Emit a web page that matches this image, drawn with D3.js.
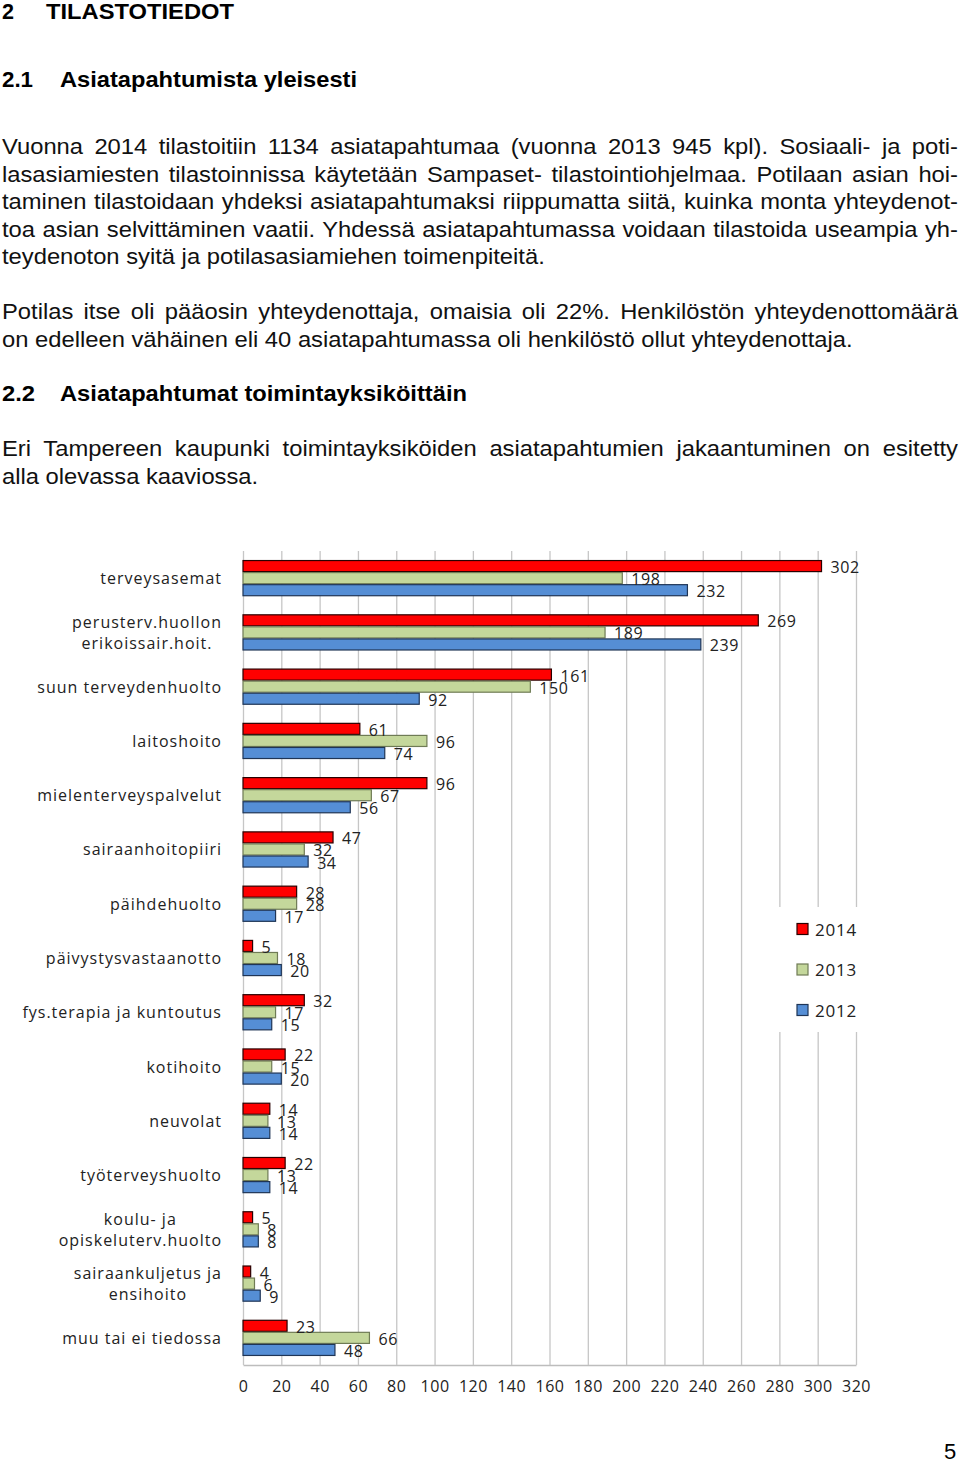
<!DOCTYPE html>
<html><head><meta charset="utf-8">
<script src="https://cdn.jsdelivr.net/npm/d3@7"></script>
<style>body{margin:0;background:#fff} svg{display:block}</style>
</head><body>
<script>
// ---------- DATA ----------
const categories = [
  "terveysasemat",
  "perusterv.huollon\nerikoissair.hoit.",
  "suun terveydenhuolto",
  "laitoshoito",
  "mielenterveyspalvelut",
  "sairaanhoitopiiri",
  "päihdehuolto",
  "päivystysvastaanotto",
  "fys.terapia ja kuntoutus",
  "kotihoito",
  "neuvolat",
  "työterveyshuolto",
  "koulu- ja\nopiskeluterv.huolto",
  "sairaankuljetus ja\nensihoito",
  "muu tai ei tiedossa"
];
const seriesNames = ["2014", "2013", "2012"];
const values2014 = [302, 269, 161, 61, 96, 47, 28, 5, 32, 22, 14, 22, 5, 4, 23];
const values2013 = [198, 189, 150, 96, 67, 32, 28, 18, 17, 15, 13, 13, 8, 6, 66];
const values2012 = [232, 239, 92, 74, 56, 34, 17, 20, 15, 20, 14, 14, 8, 9, 48];
const tickValues = [0, 20, 40, 60, 80, 100, 120, 140, 160, 180, 200, 220, 240, 260, 280, 300, 320];

const para1 = [
  "Vuonna 2014 tilastoitiin 1134 asiatapahtumaa (vuonna 2013 945 kpl). Sosiaali- ja poti-",
  "lasasiamiesten tilastoinnissa käytetään Sampaset- tilastointiohjelmaa. Potilaan asian hoi-",
  "taminen tilastoidaan yhdeksi asiatapahtumaksi riippumatta siitä, kuinka monta yhteydenot-",
  "toa asian selvittäminen vaatii. Yhdessä asiatapahtumassa voidaan tilastoida useampia yh-",
  "teydenoton syitä ja potilasasiamiehen toimenpiteitä."
];
const para2 = [
  "Potilas itse oli pääosin yhteydenottaja, omaisia oli 22%. Henkilöstön yhteydenottomäärä",
  "on edelleen vähäinen eli 40 asiatapahtumassa oli henkilöstö ollut yhteydenottaja."
];
const para3 = [
  "Eri Tampereen kaupunki toimintayksiköiden asiatapahtumien jakaantuminen on esitetty",
  "alla olevassa kaaviossa."
];

// ---------- PAGE ----------
const W = 960, H = 1463;
const svg = d3.select("body").append("svg").attr("width", W).attr("height", H);

const bodyFont = "'Liberation Sans', Arial, sans-serif";
const bodySize = 22;

function heading(num, title, yy, numW, titleX, titleW, size) {
  svg.append("text").attr("x", 2).attr("y", yy).text(num)
    .attr("font-family", bodyFont).attr("font-weight", "bold").attr("font-size", size)
    .attr("textLength", numW).attr("lengthAdjust", "spacingAndGlyphs");
  svg.append("text").attr("x", titleX).attr("y", yy).text(title)
    .attr("font-family", bodyFont).attr("font-weight", "bold").attr("font-size", size)
    .attr("textLength", titleW).attr("lengthAdjust", "spacingAndGlyphs");
}
heading("2", "TILASTOTIEDOT", 19, 12, 46, 188, 22);
heading("2.1", "Asiatapahtumista yleisesti", 87, 31, 60, 297, 22);
heading("2.2", "Asiatapahtumat toimintayksiköittäin", 401, 33, 60, 407, 22);

const probe = svg.append("text").attr("font-family", bodyFont).attr("font-size", bodySize).text(para1[4]);
const sx = 543 / probe.node().getComputedTextLength();
probe.remove();

function bodyLine(str, yy, justify) {
  const t = svg.append("text")
    .attr("transform", `translate(2,${yy}) scale(${sx},1)`)
    .attr("font-family", bodyFont).attr("font-size", bodySize).attr("fill", "#111")
    .text(str);
  if (justify) {
    const w = t.node().getComputedTextLength();
    const n = (str.match(/ /g) || []).length;
    const ws = (956 / sx - w) / n;
    t.style("word-spacing", ws + "px");
  }
}
const lh = 27.5;
para1.forEach((l, i) => bodyLine(l, 154 + i * lh, i < para1.length - 1));
para2.forEach((l, i) => bodyLine(l, 319 + i * lh, i < para2.length - 1));
para3.forEach((l, i) => bodyLine(l, 456 + i * lh, i < para3.length - 1));

svg.append("text").attr("x", 944).attr("y", 1459).text("5")
  .attr("font-family", bodyFont).attr("font-size", 22);

// ---------- CHART ----------
const chartFont = "'Open Sans', sans-serif";
const plotTop = 551, plotBottom = 1365;
const x = d3.scaleLinear().domain([0, 320]).range([243, 856]);
const y = d3.scaleBand().domain(categories).range([plotTop, plotBottom]).paddingInner(1 / 3).paddingOuter(1 / 6);
const ys = d3.scaleBand().domain(seriesNames).range([0, y.bandwidth()]);
const fills = { "2014": "#FF0000", "2013": "#C4D79B", "2012": "#558ED5" };
const strokes = { "2014": "#2a0000", "2013": "#6f7b55", "2012": "#1f3556" };
const seriesValues = { "2014": values2014, "2013": values2013, "2012": values2012 };

const axis = d3.axisBottom(x).tickValues(tickValues).tickSize(-(plotBottom - plotTop)).tickSizeOuter(0).tickPadding(16).tickFormat(d3.format("d"));
const gAxis = svg.append("g").attr("transform", `translate(0,${plotBottom})`).call(axis);
gAxis.select(".domain").attr("stroke", "#bdbdbd").attr("stroke-width", 1.3);
gAxis.selectAll(".tick line").attr("stroke", "#c6c6c6").attr("stroke-width", 1.3);
gAxis.selectAll(".tick text").attr("font-family", chartFont).attr("font-size", 16)
  .attr("fill", "#222").style("letter-spacing", "0.5px");

svg.append("rect").attr("x", 770).attr("y", 907).attr("width", 100).attr("height", 125).attr("fill", "#fff");

const rows = [];
categories.forEach((c, i) => seriesNames.forEach(s => rows.push({ cat: c, s, v: seriesValues[s][i] })));
svg.append("g").selectAll("rect").data(rows).join("rect")
  .attr("x", x(0))
  .attr("y", d => y(d.cat) + ys(d.s) + 0.5)
  .attr("width", d => x(d.v) - x(0))
  .attr("height", ys.bandwidth() - 1)
  .attr("fill", d => fills[d.s])
  .attr("stroke", d => strokes[d.s])
  .attr("stroke-width", 1.2);

svg.append("g").selectAll("text").data(rows).join("text")
  .attr("x", d => x(d.v) + 9)
  .attr("y", d => y(d.cat) + ys(d.s) + ys.bandwidth() / 2 + 1)
  .attr("dominant-baseline", "central")
  .attr("font-family", chartFont).attr("font-size", 16).attr("fill", "#222")
  .style("letter-spacing", "0.6px")
  .text(d => d.v);

const gCat = svg.append("g");
categories.forEach(c => {
  const lines = c.split("\n");
  const cy = y(c) + y.bandwidth() / 2;
  const g = gCat.append("g");
  const texts = lines.map((l, i) => g.append("text")
    .attr("y", cy + (i - (lines.length - 1) / 2) * 21)
    .attr("dominant-baseline", "central")
    .attr("text-anchor", "middle")
    .attr("font-family", chartFont).attr("font-size", 16).attr("fill", "#222")
    .style("letter-spacing", "1px")
    .text(l));
  const maxW = d3.max(texts, t => t.node().getComputedTextLength());
  texts.forEach(t => t.attr("x", 222 - maxW / 2));
});

const lg = svg.append("g");
seriesNames.forEach((s, i) => {
  const cy = 929 + i * 40.5;
  lg.append("rect").attr("x", 797).attr("y", cy - 5.5).attr("width", 11).attr("height", 11)
    .attr("fill", fills[s]).attr("stroke", strokes[s]).attr("stroke-width", 1.2);
  lg.append("text").attr("x", 815).attr("y", cy).attr("dominant-baseline", "central")
    .attr("font-family", chartFont).attr("font-size", 17).attr("fill", "#222")
    .style("letter-spacing", "0.8px").text(s);
});
</script>
</body></html>
